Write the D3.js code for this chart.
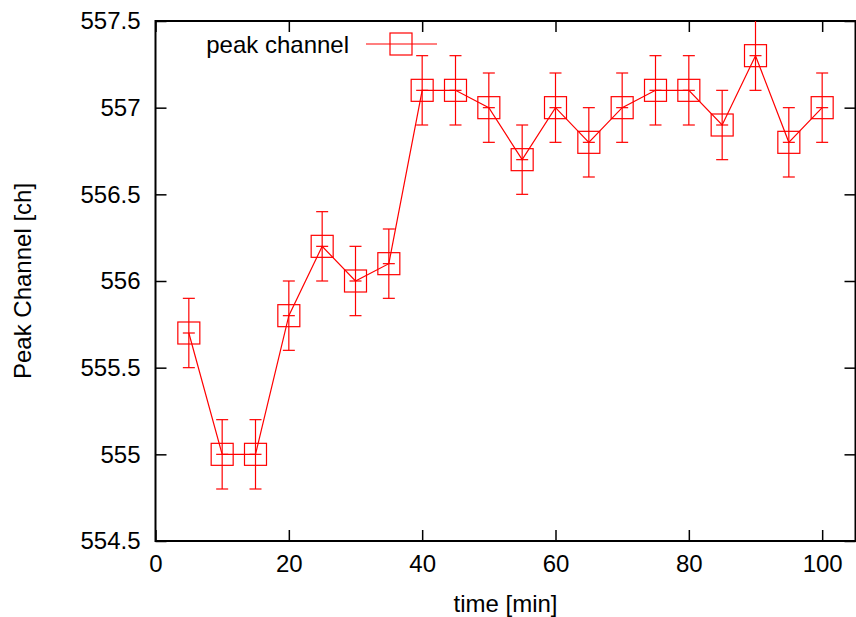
<!DOCTYPE html>
<html>
<head>
<meta charset="utf-8">
<script src="https://cdn.jsdelivr.net/npm/d3@7"></script>
<style>
  body { margin: 0; background: #fff; }
  text { font-family: "Liberation Sans", Arial, sans-serif; fill: #000; }
</style>
</head>
<body>
<script>
// data
var times = [5, 10, 15, 20, 25, 30, 35, 40, 45, 50, 55, 60, 65, 70, 75, 80, 85, 90, 95, 100];
var peak = [555.7, 555.0, 555.0, 555.8, 556.2, 556.0, 556.1, 557.1, 557.1, 557.0,
            556.7, 557.0, 556.8, 557.0, 557.1, 557.1, 556.9, 557.3, 556.8, 557.0];
var err = [0.2, 0.2, 0.2, 0.2, 0.2, 0.2, 0.2, 0.2, 0.2, 0.2,
           0.2, 0.2, 0.2, 0.2, 0.2, 0.2, 0.2, 0.2, 0.2, 0.2];
var xTicks = [0, 20, 40, 60, 80, 100];
var yTicks = [554.5, 555, 555.5, 556, 556.5, 557, 557.5];
var seriesName = "peak channel";

var width = 856,
    height = 617,
    pLeft = 155.5, pRight = 855.5, pTop = 21, pBottom = 541,
    fs = 24,
    red = "#ff0000";

var svg = d3.select("body").append("svg")
    .attr("width", width)
    .attr("height", height);

var x = d3.scaleLinear().domain([0, 105]).range([pLeft, pRight]);
var y = d3.scaleLinear().domain([554.5, 557.5]).range([pBottom, pTop]);

// ticks (gnuplot style, inward, mirrored)
var tl = 11;
var axB = d3.axisBottom(x).tickValues(xTicks).tickSizeInner(-tl).tickSizeOuter(0).tickPadding(14);
var axT = d3.axisTop(x).tickValues(xTicks).tickSizeInner(-tl).tickSizeOuter(0).tickFormat("");
var axL = d3.axisLeft(y).tickValues(yTicks).tickSizeInner(-tl).tickSizeOuter(0).tickPadding(15).tickFormat(d3.format(""));
var axR = d3.axisRight(y).tickValues(yTicks).tickSizeInner(-tl).tickSizeOuter(0).tickFormat("");

function styleAxis(g) {
    g.select(".domain").remove();
    g.selectAll("line").attr("stroke", "#000").attr("stroke-width", 1.5);
    g.selectAll("text").style("font-size", fs + "px").attr("fill", "#000")
        .style("font-family", "'Liberation Sans', Arial, sans-serif");
}

svg.append("g").attr("transform", "translate(0," + pBottom + ")").call(axB).call(styleAxis);
svg.append("g").attr("transform", "translate(0," + pTop + ")").call(axT).call(styleAxis);
svg.append("g").attr("transform", "translate(" + pLeft + ",0)").call(axL).call(styleAxis);
svg.append("g").attr("transform", "translate(" + pRight + ",0)").call(axR).call(styleAxis);

svg.append("rect")
    .attr("x", pLeft).attr("y", pTop)
    .attr("width", pRight - pLeft).attr("height", pBottom - pTop)
    .attr("fill", "none").attr("stroke", "#000").attr("stroke-width", 2);

// axis labels
svg.append("text")
    .attr("x", (pLeft + pRight) / 2).attr("y", 612)
    .attr("text-anchor", "middle").style("font-size", fs + "px")
    .text("time [min]");
svg.append("text")
    .attr("transform", "translate(31," + ((pTop + pBottom) / 2) + ") rotate(-90)")
    .attr("text-anchor", "middle").style("font-size", fs + "px")
    .text("Peak Channel [ch]");

var pts = times.map(function(t, i) { return {t: t, v: peak[i], e: err[i]}; });

var plot = svg.append("g");

// connecting line
var line = d3.line().x(function(d) { return x(d.t); }).y(function(d) { return y(d.v); });
plot.append("path").datum(pts)
    .attr("d", line).attr("fill", "none")
    .attr("stroke", red).attr("stroke-width", 1.2);

// error bars
var cap = 6, sq = 11;
var eb = plot.selectAll(".eb").data(pts).enter().append("g").attr("class", "eb");
eb.append("line")
    .attr("x1", function(d) { return x(d.t); }).attr("x2", function(d) { return x(d.t); })
    .attr("y1", function(d) { return y(d.v - d.e); }).attr("y2", function(d) { return y(d.v + d.e); })
    .attr("stroke", red).attr("stroke-width", 1.2);
eb.append("line")
    .attr("x1", function(d) { return x(d.t) - cap; }).attr("x2", function(d) { return x(d.t) + cap; })
    .attr("y1", function(d) { return y(d.v - d.e); }).attr("y2", function(d) { return y(d.v - d.e); })
    .attr("stroke", red).attr("stroke-width", 1.2);
eb.filter(function(d) { return d.v + d.e < 557.45; }).append("line")
    .attr("x1", function(d) { return x(d.t) - cap; }).attr("x2", function(d) { return x(d.t) + cap; })
    .attr("y1", function(d) { return y(d.v + d.e); }).attr("y2", function(d) { return y(d.v + d.e); })
    .attr("stroke", red).attr("stroke-width", 1.2);
eb.append("line")
    .attr("x1", function(d) { return x(d.t) - cap; }).attr("x2", function(d) { return x(d.t) + cap; })
    .attr("y1", function(d) { return y(d.v); }).attr("y2", function(d) { return y(d.v); })
    .attr("stroke", red).attr("stroke-width", 1.2);
eb.append("rect")
    .attr("x", function(d) { return x(d.t) - sq; }).attr("y", function(d) { return y(d.v) - sq; })
    .attr("width", 2 * sq).attr("height", 2 * sq)
    .attr("fill", "none").attr("stroke", red).attr("stroke-width", 1.2);

// legend
var lg = svg.append("g");
lg.append("text").attr("x", 349).attr("y", 53)
    .attr("text-anchor", "end").style("font-size", fs + "px").text(seriesName);
lg.append("line").attr("x1", 366).attr("x2", 437).attr("y1", 44).attr("y2", 44)
    .attr("stroke", red).attr("stroke-width", 1.2);
lg.append("rect").attr("x", 401 - sq).attr("y", 44 - sq)
    .attr("width", 2 * sq).attr("height", 2 * sq)
    .attr("fill", "none").attr("stroke", red).attr("stroke-width", 1.2);
</script>
</body>
</html>
